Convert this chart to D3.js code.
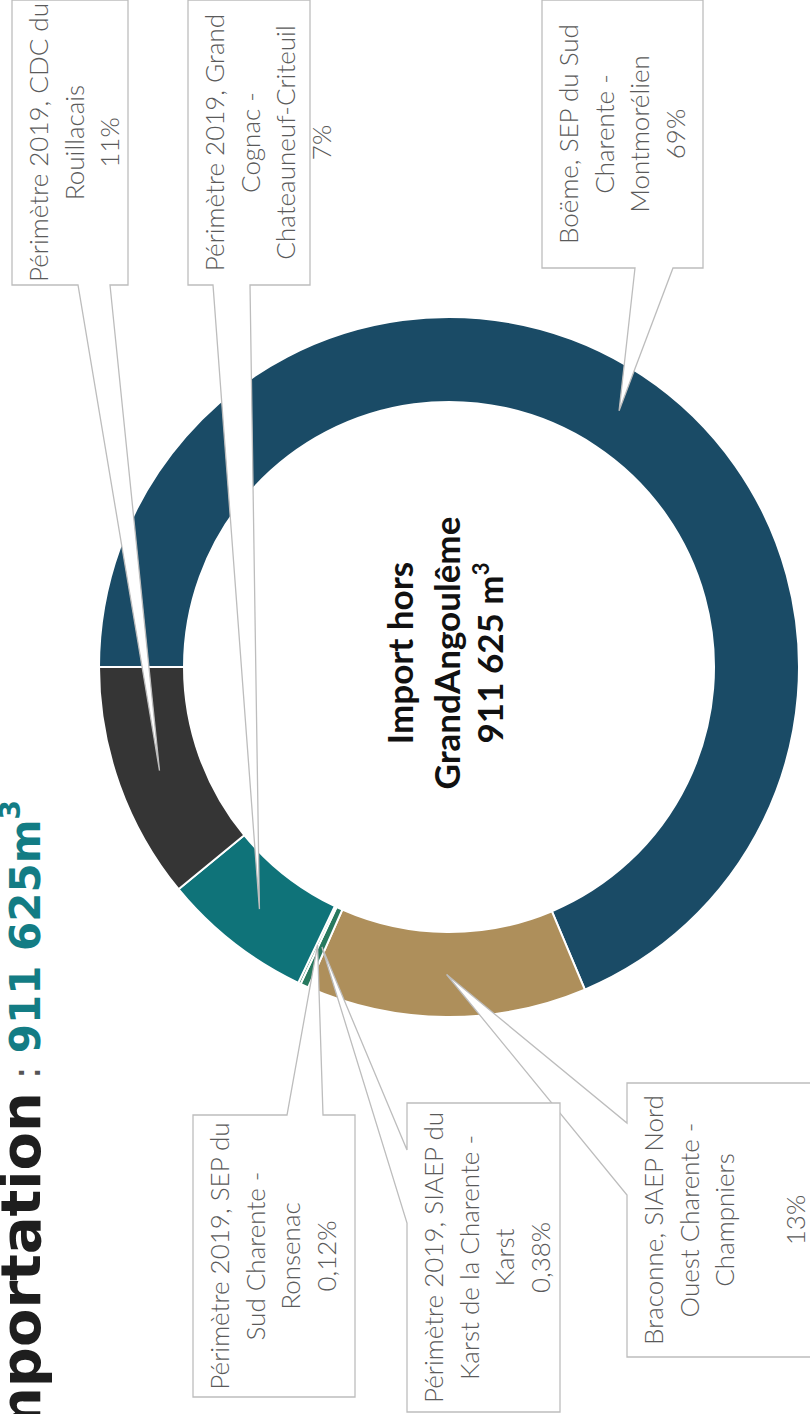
<!DOCTYPE html>
<html>
<head>
<meta charset="utf-8">
<script src="https://cdn.jsdelivr.net/npm/d3@7"></script>
<style>
body { margin: 0; background: #fff; }
svg { display: block; }
</style>
</head>
<body>
<div id="chart"></div>
<script>
// slices, in the order they are drawn clockwise from 12 o'clock (before the page rotation)
var names = [
  ["Boëme, SEP du Sud", "Charente -", "Montmorélien"],
  ["Braconne, SIAEP Nord", "Ouest Charente -", "Champniers", ""],
  ["Périmètre 2019, SIAEP du", "Karst de la Charente -", "Karst"],
  ["Périmètre 2019, SEP du", "Sud Charente -", "Ronsenac"],
  ["Périmètre 2019,  Grand", "Cognac -", "Chateauneuf-Criteuil"],
  ["Périmètre 2019, CDC du", "Rouillacais"]
];
var shares = [69, 13, 0.38, 0.12, 7, 11];
var shareLabels = ["69%", "13%", "0,38%", "0,12%", "7%", "11%"];
var colors = ["#1a4b66", "#ae8f5b", "#27795f", "#1e6a57", "#0f7379", "#353535"];
var centerLines = ["Import hors", "GrandAngoulême", "911 625 m"];
var titleParts = ["Importation", " : ", "911 625m"];

var W = 810, H = 1414;
var svg = d3.select("#chart").append("svg").attr("width", W).attr("height", H);

// the scanned page is turned a quarter turn: draw upright in a 1414 x 810 frame, then rotate
var g = svg.append("g").attr("transform", "translate(0," + H + ") rotate(-90)");

var cx = 747, cy = 449;
var arc = d3.arc().innerRadius(265).outerRadius(350);
var pie = d3.pie().sort(null).value(function(d) { return d; });
var arcs = pie(shares);

var donut = g.append("g").attr("transform", "translate(" + cx + "," + cy + ")");
donut.selectAll("path").data(arcs).enter().append("path")
  .attr("d", arc)
  .attr("fill", function(d, i) { return colors[i]; })
  .attr("stroke", "#fff")
  .attr("stroke-width", 2);

// centre text
var ct = g.append("text")
  .attr("text-anchor", "middle")
  .attr("font-family", "Lato, 'Open Sans', sans-serif")
  .attr("font-weight", "bold")
  .attr("font-size", 35)
  .attr("fill", "#111");
centerLines.forEach(function(l, i) {
  var t = ct.append("tspan").attr("x", 761).attr("y", [413, 460, 503][i]).text(l);
  if (i == 2) t.append("tspan").attr("font-size", 22).attr("dy", -14).text("3");
});

// callout boxes (frame coords); the pointer leaves from one side between a and b
var boxes = [
  {u0: 1146, u1: 1414, v0: 542, v1: 703, side: "left", a: 635, b: 673},
  {u0: 57, u1: 331, v0: 627, v1: 815, side: "top", a: 219, b: 291},
  {u0: 2, u1: 311, v0: 407, v1: 560, side: "top", a: 191, b: 264},
  {u0: 17, u1: 299, v0: 193, v1: 355, side: "right", a: 287, b: 323},
  {u0: 1129, u1: 1414, v0: 188, v1: 310, side: "left", a: 213, b: 250},
  {u0: 1129, u1: 1414, v0: 12, v1: 128, side: "left", a: 78, b: 110}
];

function calloutPath(b, tip) {
  var p = [[b.u0, b.v0]];
  if (b.side == "top") p.push([b.a, b.v0], tip, [b.b, b.v0]);
  p.push([b.u1, b.v0]);
  if (b.side == "right") p.push([b.u1, b.a], tip, [b.u1, b.b]);
  p.push([b.u1, b.v1]);
  if (b.side == "bottom") p.push([b.b, b.v1], tip, [b.a, b.v1]);
  p.push([b.u0, b.v1]);
  if (b.side == "left") p.push([b.u0, b.b], tip, [b.u0, b.a]);
  return d3.line()(p) + "Z";
}

var callouts = g.append("g");
arcs.forEach(function(d, i) {
  var c = arc.centroid(d);
  var tip = [cx + c[0], cy + c[1]];
  var b = boxes[i];
  callouts.append("path")
    .attr("d", calloutPath(b, tip))
    .attr("fill", "#fff")
    .attr("stroke", "#bdbdbd")
    .attr("stroke-width", 1.3);
  var lines = names[i].concat([shareLabels[i]]);
  var txt = callouts.append("text")
    .attr("text-anchor", "middle")
    .attr("font-family", "Lato, 'Open Sans', sans-serif")
    .attr("font-weight", 300)
    .attr("font-size", 26)
    .attr("fill", "#5a5a5a");
  lines.forEach(function(l, k) {
    txt.append("tspan").attr("x", (b.u0 + b.u1) / 2).attr("y", b.v0 + 36 + k * 35.5).text(l);
  });
});

// page title, cut by the scan
var title = g.append("text")
  .attr("x", 614).attr("y", 40)
  .attr("text-anchor", "end")
  .attr("font-family", "'DejaVu Sans', Verdana, sans-serif")
  .attr("font-weight", "bold");
title.append("tspan").attr("font-size", 56).attr("fill", "#1e1e1e").text(titleParts[0]);
title.append("tspan").attr("font-size", 40).attr("font-weight", "normal").attr("fill", "#555").text(titleParts[1]);
title.append("tspan").attr("font-size", 42).attr("fill", "#137c84").text(titleParts[2]);
title.append("tspan").attr("font-size", 28).attr("dy", -20).attr("fill", "#137c84").text("3");
</script>
</body>
</html>
